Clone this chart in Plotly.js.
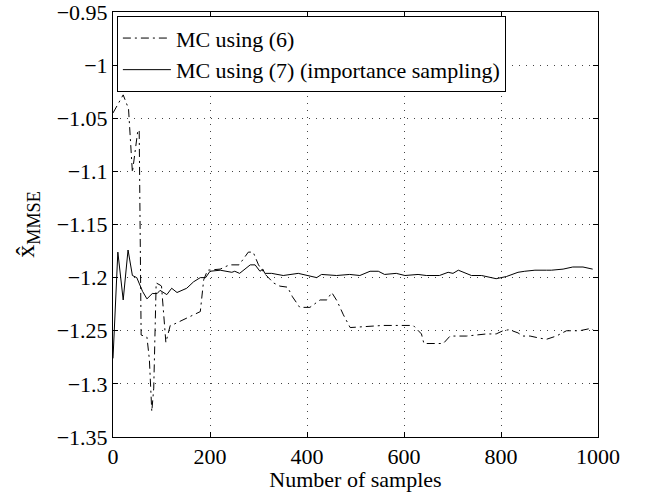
<!DOCTYPE html>
<html>
<head>
<meta charset="utf-8">
<script src="https://cdn.plot.ly/plotly-3.0.1.min.js"></script>
<style>html,body{margin:0;padding:0;background:#fff;}#chart{width:647px;height:492px;}</style>
</head>
<body>
<div id="chart"></div>
<script>
// MC using (6) — plain Monte Carlo estimate
const samplesMC6 = [0,21,32,40,51,54,58,70,75,80,84,89,97,100,109,118,125,152,180,187,195,221,240,260,279,289,300,312,331,344,360,370,385,406,427,441,451,462,475,489,523,557,590,619,636,641,681,695,729,770,790,804,817,835,845,860,880,894,914,935,962,983,990];
const estMC6 = [-1.045,-1.028,-1.041,-1.101,-1.062,-1.061,-1.254,-1.256,-1.277,-1.326,-1.304,-1.205,-1.207,-1.208,-1.261,-1.245,-1.244,-1.238,-1.232,-1.202,-1.193,-1.192,-1.188,-1.188,-1.176,-1.176,-1.188,-1.196,-1.205,-1.208,-1.209,-1.218,-1.228,-1.228,-1.221,-1.221,-1.214,-1.222,-1.235,-1.247,-1.246,-1.245,-1.245,-1.245,-1.253,-1.262,-1.262,-1.255,-1.255,-1.253,-1.253,-1.250,-1.249,-1.252,-1.255,-1.255,-1.257,-1.258,-1.255,-1.250,-1.250,-1.248,-1.249];

// MC using (7) — importance sampling estimate
const samplesMC7 = [0,10,21,31,40,49,61,70,81,91,97,104,111,121,132,152,166,180,191,200,221,245,251,261,273,283,293,303,309,313,327,351,382,399,420,430,461,488,509,530,547,560,584,602,629,646,673,691,701,712,739,760,790,811,835,849,870,894,904,928,948,969,989];
const estMC7 = [-1.276,-1.176,-1.221,-1.174,-1.198,-1.200,-1.213,-1.220,-1.215,-1.215,-1.212,-1.214,-1.216,-1.210,-1.214,-1.210,-1.204,-1.200,-1.200,-1.194,-1.193,-1.195,-1.194,-1.196,-1.192,-1.188,-1.188,-1.194,-1.192,-1.196,-1.196,-1.198,-1.196,-1.198,-1.200,-1.197,-1.198,-1.197,-1.198,-1.194,-1.194,-1.197,-1.196,-1.198,-1.197,-1.198,-1.198,-1.195,-1.196,-1.193,-1.198,-1.198,-1.201,-1.199,-1.195,-1.194,-1.193,-1.193,-1.193,-1.192,-1.190,-1.190,-1.192];

const seriesNames = ["MC using (6)", "MC using (7) (importance sampling)"];
const xTickVals = [0,200,400,600,800,1000];
const xTickText = ["0","200","400","600","800","1000"];
const yTickVals = [-0.95,-1,-1.05,-1.1,-1.15,-1.2,-1.25,-1.3,-1.35];
const yTickText = ["\u22120.95","\u22121","\u22121.05","\u22121.1","\u22121.15","\u22121.2","\u22121.25","\u22121.3","\u22121.35"];

const FONT = "Liberation Serif, Times New Roman, serif";

const traces = [
  {x: samplesMC6, y: estMC6, name: seriesNames[0], type: "scatter", mode: "lines",
   line: {color: "#000", width: 1, dash: "8px,4px,2px,4px"}},
  {x: samplesMC7, y: estMC7, name: seriesNames[1], type: "scatter", mode: "lines",
   line: {color: "#000", width: 1}}
];

const axisCommon = {
  showline: true, linecolor: "#000", linewidth: 1, mirror: "ticks",
  ticks: "inside", ticklen: 5, tickcolor: "#000", tickwidth: 1,
  showgrid: true, gridcolor: "#444", griddash: "1px,6px", gridwidth: 1,
  zeroline: false, ticklabeloverflow: "allow",
  tickfont: {family: FONT, size: 22, color: "#000"}
};

const layout = {
  width: 647, height: 492,
  margin: {l: 113, r: 49, t: 12, b: 55},
  paper_bgcolor: "#fff", plot_bgcolor: "#fff",
  font: {family: FONT, size: 22, color: "#000"},
  showlegend: true,
  legend: {x: 0.008, y: 0.99, xanchor: "left", yanchor: "top",
           bgcolor: "#fff", bordercolor: "#000", borderwidth: 1, itemwidth: 48,
           font: {family: FONT, size: 22, color: "#000"}, tracegroupgap: 0},
  xaxis: Object.assign({}, axisCommon, {
    range: [0, 1000], tickmode: "array", tickvals: xTickVals, ticktext: xTickText,
    title: {text: "Number of samples", font: {family: FONT, size: 22, color: "#000"}, standoff: 0}
  }),
  yaxis: Object.assign({}, axisCommon, {
    range: [-1.35, -0.95], tickmode: "array", tickvals: yTickVals, ticktext: yTickText,
    title: {text: "x\u0302<sub>MMSE</sub>", font: {family: FONT, size: 26, color: "#000"}, standoff: 14}
  })
};

Plotly.newPlot("chart", traces, layout, {displayModeBar: false, staticPlot: true});
</script>
</body>
</html>
